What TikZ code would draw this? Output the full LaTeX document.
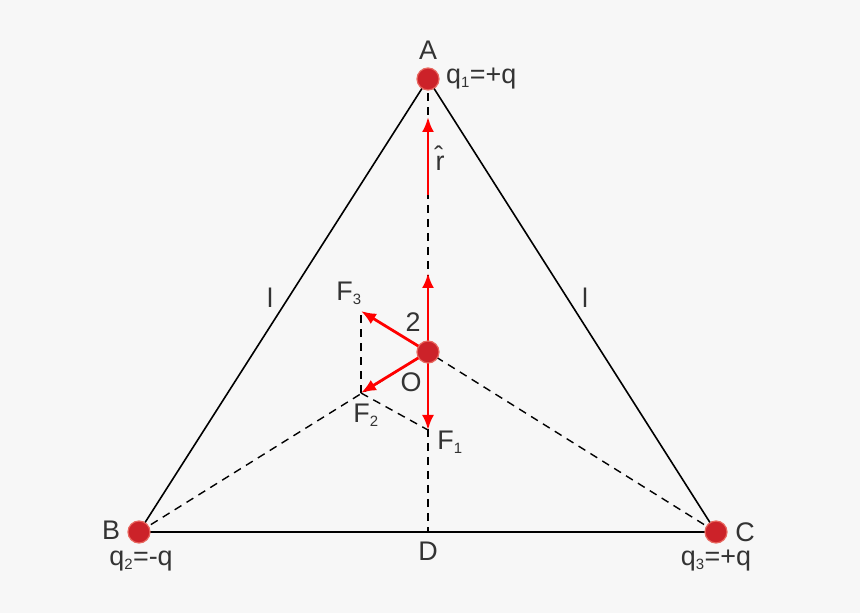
\documentclass[tikz,border=0pt]{standalone}
\usepackage{fontspec}
\setmainfont{Liberation Sans}
\usetikzlibrary{arrows.meta}
\definecolor{bgcol}{HTML}{F7F7F7}
\definecolor{chargecol}{HTML}{CC2229}
\definecolor{chargeedge}{HTML}{E8675F}
\definecolor{textcol}{HTML}{333333}
\tikzset{
  charge/.style={circle,fill=chargecol,draw=chargeedge,line width=1.2bp,inner sep=0pt,minimum size=22bp},
  side/.style={black,line width=1.6bp},
  guide/.style={black,line width=1.4bp,dash pattern=on 8bp off 6bp},
  force/.style={red,line width=2.8bp,->},
  lbl/.style={text=textcol,inner sep=0pt,font=\fontsize{27}{31}\selectfont},
}
\newcommand{\sub}[1]{\textsubscript{\fontsize{15}{17}\selectfont #1}}
\begin{document}
\begin{tikzpicture}[>={Latex[length=15bp,width=12bp]},line join=bevel,]
%%
\useasboundingbox [fill=bgcol] (0bp,0bp) rectangle (860bp,613bp);
\coordinate (node_A) at (428bp,534bp);
\coordinate (node_B) at (139bp,81bp);
\coordinate (node_C) at (716bp,81bp);
\coordinate (node_O) at (428bp,261bp);
\coordinate (node_D) at (428bp,81bp);
\coordinate (node_F1) at (428bp,183bp);
\coordinate (node_F2) at (361bp,220bp);
\coordinate (node_F3) at (361bp,302bp);
\coordinate (node_up) at (428bp,340bp);
\coordinate (node_r0) at (428bp,418bp);
\coordinate (node_r1) at (428bp,496bp);
%
\draw [side] (node_A) -- (node_B) -- (node_C) -- cycle;
\draw [guide] (node_A) -- (node_D);
\draw [guide] (node_B) -- (node_O) -- (node_C);
\draw [guide] (node_F2) -- (node_F1);
\draw [guide] (node_F2) -- (node_F3);
%
\draw [force] (node_O) -- (node_up);
\draw [force] (node_O) -- (node_F1);
\draw [force] (node_O) -- (node_F2);
\draw [force] (node_O) -- (node_F3);
\draw [force] (node_r0) -- (node_r1);
%
\node (dot_A) at (node_A) [charge] {};
\node (dot_B) at (node_B) [charge] {};
\node (dot_C) at (node_C) [charge] {};
\node (dot_O) at (node_O) [charge] {};
%
\node (lbl_A) at (428bp,563bp) [lbl] {A};
\node (lbl_q1) at (446bp,534bp) [lbl,anchor=west] {q\sub{1}=+q};
\node (lbl_B) at (111bp,83bp) [lbl] {B};
\node (lbl_q2) at (141bp,52bp) [lbl] {q\sub{2}=-q};
\node (lbl_C) at (745bp,81bp) [lbl] {C};
\node (lbl_q3) at (716bp,52bp) [lbl] {q\sub{3}=+q};
\node (lbl_D) at (428bp,62bp) [lbl] {D};
\node (lbl_O) at (411bp,231bp) [lbl] {O};
\node (lbl_2) at (413bp,291bp) [lbl] {2};
\node (lbl_F1) at (450bp,171bp) [lbl] {F\sub{1}};
\node (lbl_F2) at (366bp,198bp) [lbl] {F\sub{2}};
\node (lbl_F3) at (349bp,320bp) [lbl] {F\sub{3}};
\node (lbl_r) at (440bp,455bp) [lbl] {\^{r}};
\node (lbl_l1) at (270bp,315bp) [lbl] {l};
\node (lbl_l2) at (585bp,315bp) [lbl] {l};
%
\end{tikzpicture}
\end{document}
